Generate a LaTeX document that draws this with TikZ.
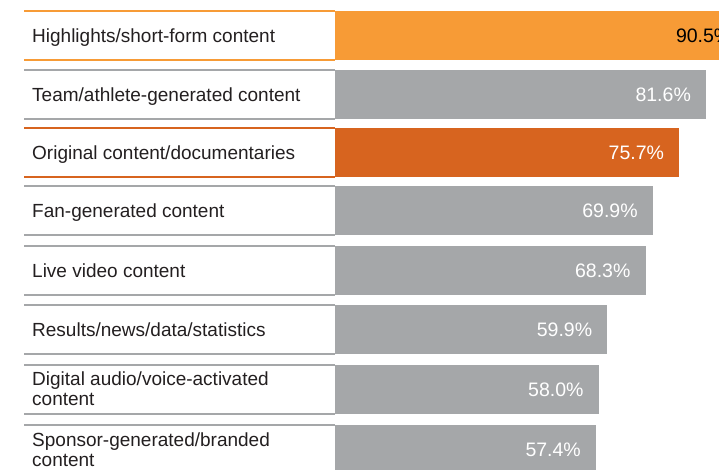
\documentclass[tikz,border=0pt]{standalone}
\usepackage{fontspec}
\setmainfont{Liberation Sans}
\definecolor{hilite}{HTML}{F79B36}
\definecolor{docu}{HTML}{D7641F}
\definecolor{neutral}{HTML}{A5A7A9}
\definecolor{ink}{HTML}{231F20}
\def\pxper{4.547}
\def\rowh{49}
\tikzset{rowline/.style={line width=1.3pt}}
\tikzset{rowtext/.style={anchor=base west, inner sep=0pt, align=left, text=ink, font=\fontsize{19}{20}\selectfont}}
\tikzset{pct/.style={anchor=base east, inner sep=0pt, font=\fontsize{19.5}{20}\selectfont}}

\begin{document}
\begin{tikzpicture}[x=1pt,y=-1pt]
  \useasboundingbox (0,0) rectangle (719,469);
  % Bars run off the right edge
  \clip (0,0) rectangle (719,469);
  % \ty = baseline of the last text line, from the row's top
  \foreach \i/\rowy/\ty/\txt/\val/\barc/\numc in {
    1/11/31.5/{Highlights/short-form content}/90.5/hilite/black,
    2/70/31.5/{Team/athlete-generated content}/81.6/neutral/white,
    3/128/31.5/{Original content/documentaries}/75.7/docu/white,
    4/186/31.5/{Fan-generated content}/69.9/neutral/white,
    5/246/31.5/{Live video content}/68.3/neutral/white,
    6/305/31.5/{Results/news/data/statistics}/59.9/neutral/white,
    7/365/40/{Digital audio/voice-activated\\content}/58.0/neutral/white,
    8/425/41/{Sponsor-generated/branded\\content}/57.4/neutral/white%
  } {
    \draw[rowline, \barc] (24,\rowy) -- (335,\rowy) (24,\rowy+\rowh) -- (335,\rowy+\rowh);
    \fill[\barc] (335,\rowy) rectangle ++(\val*\pxper,\rowh);
    \node[rowtext] (lbl\i) at (32,\rowy+\ty) {\txt};
    \node[pct, text=\numc] (pct\i) at (335+\val*\pxper-15,\rowy+31.5) {\val\%};
  }
\end{tikzpicture}
\end{document}
